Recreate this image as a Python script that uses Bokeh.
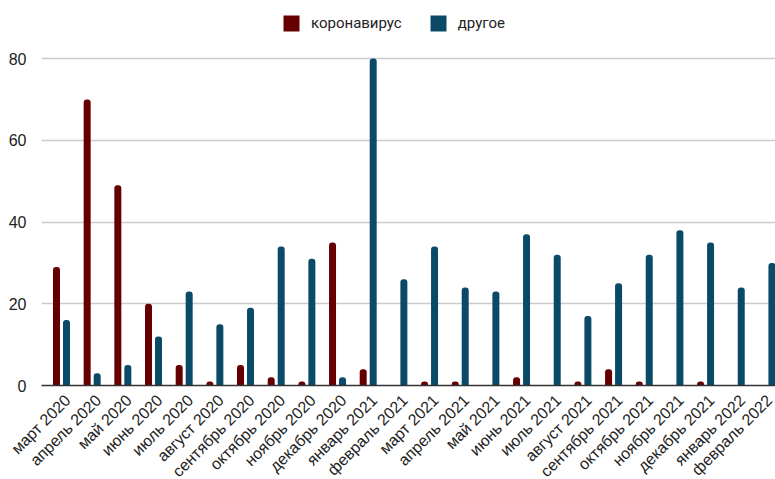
from bokeh.plotting import figure
from bokeh.models import ColumnDataSource, FixedTicker, Legend, LegendItem, Range1d
from bokeh.embed import file_html
from bokeh.resources import INLINE
import math

months = ["март 2020", "апрель 2020", "май 2020", "июнь 2020", "июль 2020", "август 2020",
          "сентябрь 2020", "октябрь 2020", "ноябрь 2020", "декабрь 2020", "январь 2021",
          "февраль 2021", "март 2021", "апрель 2021", "май 2021", "июнь 2021", "июль 2021",
          "август 2021", "сентябрь 2021", "октябрь 2021", "ноябрь 2021", "декабрь 2021",
          "январь 2022", "февраль 2022"]
corona = [29, 70, 49, 20, 5, 1, 5, 2, 1, 35, 4, 0, 1, 1, 0, 2, 0, 1, 4, 1, 0, 1, 0, 0]
other = [16, 3, 5, 12, 23, 15, 19, 34, 31, 2, 80, 26, 34, 24, 23, 37, 32, 17, 25, 32, 38, 35, 24, 30]
y_ticks = [0, 20, 40, 60, 80]

RED = "#660000"
BLUE = "#0b4a67"

idx = list(range(len(months)))
src = ColumnDataSource(dict(
    x1=[i - 0.163 for i in idx], x2=[i + 0.163 for i in idx],
    corona=corona, other=other))

# frame spans the full top of the page so the legend (inside the frame) is not clipped
p = figure(frame_width=734, frame_height=385, output_backend="svg", toolbar_location=None,
           x_range=Range1d(-0.652, 23.28), y_range=Range1d(0, 94.19),
           min_border_left=41, min_border_right=0, min_border_top=0, min_border_bottom=94)
p.outline_line_color = None
p.background_fill_color = "white"

r1 = p.vbar(x="x1", top="corona", width=0.228, bottom=0, source=src, fill_color=RED,
            line_color=None, border_radius=(3, 3, 0, 0))
r2 = p.vbar(x="x2", top="other", width=0.228, bottom=0, source=src, fill_color=BLUE,
            line_color=None, border_radius=(3, 3, 0, 0))

p.xgrid.grid_line_color = None
p.ygrid.grid_line_color = "#cccccc"
p.ygrid.grid_line_width = 1.5
p.ygrid.ticker = FixedTicker(ticks=y_ticks)

p.yaxis.ticker = FixedTicker(ticks=y_ticks)
p.yaxis.axis_line_color = None
p.yaxis.major_tick_line_color = None
p.yaxis.minor_tick_line_color = None
p.yaxis.major_label_text_font = "Liberation Sans"
p.yaxis.major_label_text_font_size = "16px"
p.yaxis.major_label_text_color = "#222222"
p.yaxis.major_label_standoff = 9

# label anchors sit slightly right of the group centre, as in the reference
label_pos = [i + 0.2 for i in idx]
p.xaxis.ticker = FixedTicker(ticks=label_pos)
p.xaxis.major_label_overrides = {lp: m for lp, m in zip(label_pos, months)}
p.xaxis.major_label_orientation = math.pi / 4
p.xaxis.axis_line_color = "#333333"
p.xaxis.axis_line_width = 1.5
p.xaxis.major_tick_line_color = None
p.xaxis.minor_tick_line_color = None
p.xaxis.major_label_text_font = "Liberation Sans"
p.xaxis.major_label_text_font_size = "16px"
p.xaxis.major_label_text_color = "#222222"
p.xaxis.major_label_standoff = 6

legend = Legend(items=[LegendItem(label="коронавирус", renderers=[r1]),
                       LegendItem(label="другое", renderers=[r2])],
                location=(240, 352), orientation="horizontal",
                glyph_width=20, glyph_height=20, label_standoff=10, spacing=26,
                padding=0, margin=0, border_line_color=None, background_fill_alpha=0,
                label_text_font="Roboto", label_text_font_size="15px",
                label_text_color="#222222")
p.add_layout(legend, "center")

open("out.html", "w").write(file_html(p, INLINE))
